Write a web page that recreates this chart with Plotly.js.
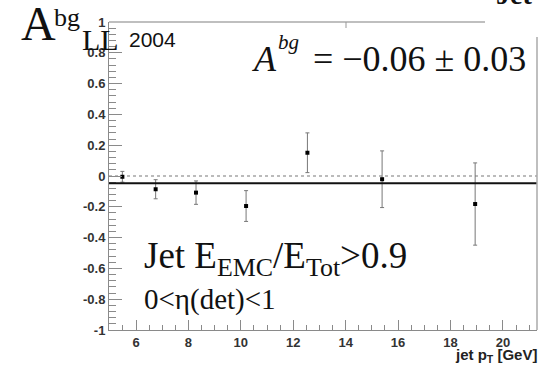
<!DOCTYPE html>
<html>
<head>
<meta charset="utf-8">
<script src="https://cdn.plot.ly/plotly-3.0.1.min.js"></script>
<style>html,body{margin:0;padding:0;background:#fff;}#chart{width:542px;height:368px;}</style>
</head>
<body>
<div id="chart"></div>
<script>
// ---- data ----
const jetPt = [5.48, 6.75, 8.29, 10.2, 12.54, 15.39, 18.94];
const aBg = [-0.005, -0.086, -0.108, -0.195, 0.151, -0.021, -0.182];
const aBgErr = [0.035, 0.062, 0.076, 0.1, 0.129, 0.184, 0.267];
const fitLevel = -0.047;   // drawn constant fit
const zeroLevel = 0;
const yTickVals = [-1, -0.8, -0.6, -0.4, -0.2, 0, 0.2, 0.4, 0.6, 0.8, 1];
const yTickText = ['-1', '-0.8', '-0.6', '-0.4', '-0.2', '0', '0.2', '0.4', '0.6', '0.8', '1'];
const xTickVals = [6, 8, 10, 12, 14, 16, 18, 20];
const xTickText = ['6', '8', '10', '12', '14', '16', '18', '20'];

// ---- layout geometry (pixels) ----
const L = 109, R = 537, T = 22, B = 330;
const W = 542, H = 368;
const px = p => (p - L) / (R - L);
const py = p => (B - p) / (B - T);

const serif = 'Liberation Serif, Times New Roman, serif';
const sans = 'Liberation Sans, Arial, sans-serif';
const axisGrey = '#8a8a8a';

const traces = [{
  type: 'scatter', mode: 'markers',
  x: jetPt, y: aBg,
  marker: {color: '#000', size: 4, symbol: 'square'},
  error_y: {type: 'data', array: aBgErr, visible: true, color: '#777', thickness: 1, width: 2},
  hoverinfo: 'skip', showlegend: false
}];

function ann(text, x, y, size, family, opts) {
  return Object.assign({
    text: text, xref: 'paper', yref: 'paper', x: px(x), y: py(y),
    xanchor: 'left', yanchor: 'middle', showarrow: false,
    font: {family: family, size: size, color: '#111'}
  }, opts || {});
}

const layout = {
  width: W, height: H,
  margin: {l: L, r: W - R, t: T, b: H - B, pad: 0},
  paper_bgcolor: '#fff', plot_bgcolor: '#fff',
  showlegend: false,
  xaxis: {
    range: [4.97, 21.3], showgrid: false, zeroline: false,
    showline: true, linecolor: axisGrey, linewidth: 1,
    tickmode: 'array', tickvals: xTickVals, ticktext: xTickText,
    ticks: 'inside', ticklen: 10, tickcolor: axisGrey, tickwidth: 1,
    minor: {dtick: 0.5, tick0: 0, ticks: 'inside', ticklen: 5, tickcolor: axisGrey, tickwidth: 1, showgrid: false},
    tickfont: {family: sans, size: 13, color: '#333', weight: 'bold'}
  },
  yaxis: {
    range: [-1, 1], showgrid: false, zeroline: false,
    showline: true, linecolor: axisGrey, linewidth: 1,
    tickmode: 'array', tickvals: yTickVals, ticktext: yTickText,
    ticks: 'inside', ticklen: 13, tickcolor: axisGrey, tickwidth: 1,
    minor: {dtick: 0.04, tick0: 0, ticks: 'inside', ticklen: 7, tickcolor: axisGrey, tickwidth: 1, showgrid: false},
    tickfont: {family: sans, size: 13, color: '#333', weight: 'bold'}
  },
  shapes: [
    // zero reference (dotted)
    {type: 'line', xref: 'paper', yref: 'y', x0: 0, x1: 1, y0: zeroLevel, y1: zeroLevel,
     line: {color: '#bbb', width: 2, dash: 'dot'}, layer: 'below'},
    // constant fit
    {type: 'line', xref: 'paper', yref: 'y', x0: 0, x1: 1, y0: fitLevel, y1: fitLevel,
     line: {color: '#111', width: 2}},
    // frame top (partly hidden by stat box) and right
    {type: 'line', xref: 'paper', yref: 'paper', x0: 0, x1: px(485), y0: 1, y1: 1,
     line: {color: '#aaa', width: 1.5}},
    {type: 'line', xref: 'paper', yref: 'paper', x0: 1, x1: 1, y0: 0, y1: py(37),
     line: {color: '#aaa', width: 1.5}},
    {type: 'line', xref: 'paper', yref: 'paper', x0: px(346), x1: px(346), y0: 1, y1: py(28),
     line: {color: '#999', width: 1}}
  ],
  annotations: [
    ann('A', 19, 23, 48, serif),
    ann('bg', 52, 17, 26, serif),
    ann('LL', 80, 40, 30, serif),
    ann('2004', 127, 40, 21, sans),
    ann('<i>A</i>', 250, 59, 36, serif),
    ann('<i>bg</i>', 276, 42, 21, serif),
    ann('= \u22120.06 \u00b1 0.03', 311, 59, 36, serif),
    ann('Jet E<sub>EMC</sub>/E<sub>Tot</sub>>0.9', 142, 258, 37, serif),
    ann('0<\u03b7(det)<1', 142, 299, 29, serif),
    ann('jet p<sub>T</sub> [GeV]', 539, 355, 15, sans, {xanchor: 'right', font: {family: sans, size: 15, color: '#222', weight: 'bold'}}),
    ann('<b>Jet</b>', 494, -6, 28, serif)
  ]
};

Plotly.newPlot('chart', traces, layout, {staticPlot: true, displayModeBar: false});
</script>
</body>
</html>
